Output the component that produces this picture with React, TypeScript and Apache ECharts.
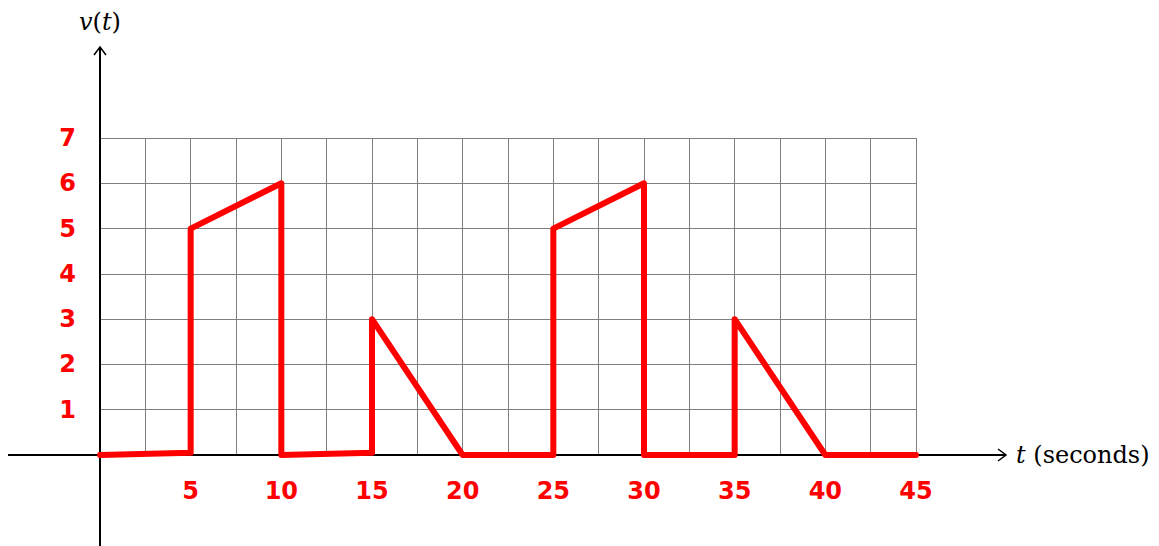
import React, { useEffect, useRef } from "react";
import * as echarts from "echarts";

const tValues = [0, 5, 5, 10, 10, 15, 15, 20, 25, 25, 30, 30, 35, 35, 40, 45];
const vValues = [0, 0.05, 5, 6, 0, 0.05, 3, 0, 0, 5, 6, 0, 0, 3, 0, 0];
const xTickLabels = ["5", "10", "15", "20", "25", "30", "35", "40", "45"];
const yTickLabels = ["1", "2", "3", "4", "5", "6", "7"];
const xAxisTitle = "t";
const xAxisUnit = " (seconds)";

export default function App() {
  const ref = useRef<HTMLDivElement>(null);
  useEffect(() => {
    document.body.style.margin = "0";
    const chart = echarts.init(ref.current!, null, { renderer: "svg" });
    const W = 1159, H = 546;
    const gl = 100, gr = 916, gt = 138, gb = 455;
    const data = tValues.map((t, i) => [t, vValues[i]]);
    const red = "#ff0000";
    const serif = "DejaVu Serif";
    const labelStyle = {
      margin: 24,
      color: red,
      fontFamily: "DejaVu Sans",
      fontWeight: "bold",
      fontSize: 24,
    };
    chart.setOption({
      animation: false,
      backgroundColor: "#ffffff",
      grid: { left: gl, right: W - gr, top: gt, bottom: H - gb, containLabel: false },
      xAxis: {
        type: "value",
        min: 0,
        max: 45,
        interval: 2.5,
        axisLine: { show: false },
        axisTick: { show: false },
        splitLine: { show: true, lineStyle: { color: "#7f7f7f", width: 1 } },
        axisLabel: {
          ...labelStyle,
          formatter: (v: number) => {
            const s = String(v);
            return v > 0 && xTickLabels.includes(s) ? s : "";
          },
        },
      },
      yAxis: {
        type: "value",
        min: 0,
        max: 7,
        interval: 1,
        axisLine: { show: false },
        axisTick: { show: false },
        splitLine: { show: true, lineStyle: { color: "#7f7f7f", width: 1 } },
        axisLabel: {
          ...labelStyle,
          formatter: (v: number) => {
            const s = String(v);
            return yTickLabels.includes(s) ? s : "";
          },
        },
      },
      graphic: [
        { type: "line", shape: { x1: 8, y1: gb, x2: 1006, y2: gb }, style: { stroke: "#000", lineWidth: 2 }, z: 1 },
        { type: "polyline", shape: { points: [[998, gb - 6], [1006, gb], [998, gb + 6]] }, style: { stroke: "#000", lineWidth: 1.5, fill: null }, z: 1 },
        { type: "line", shape: { x1: gl, y1: 546, x2: gl, y2: 47 }, style: { stroke: "#000", lineWidth: 2 }, z: 1 },
        { type: "polyline", shape: { points: [[gl - 6, 55], [gl, 47], [gl + 6, 55]] }, style: { stroke: "#000", lineWidth: 1.5, fill: null }, z: 1 },
        {
          type: "text",
          x: gl,
          y: 22,
          style: {
            text: "{i|v}{n|(}{i|t}{n|)}",
            rich: {
              i: { fontFamily: serif, fontStyle: "italic", fontSize: 24, fill: "#000" },
              n: { fontFamily: serif, fontSize: 24, fill: "#000" },
            },
            align: "center",
            verticalAlign: "middle",
          },
        },
        {
          type: "text",
          x: 1016,
          y: gb,
          style: {
            text: "{i|" + xAxisTitle + "}{n|" + xAxisUnit + "}",
            rich: {
              i: { fontFamily: serif, fontStyle: "italic", fontSize: 24, fill: "#000" },
              n: { fontFamily: serif, fontSize: 24, fill: "#000" },
            },
            align: "left",
            verticalAlign: "middle",
          },
        },
      ],
      series: [
        {
          type: "line",
          data,
          showSymbol: false,
          symbol: "none",
          z: 5,
          lineStyle: { color: red, width: 6, cap: "round", join: "round" },
        },
      ],
    });
    return () => chart.dispose();
  }, []);
  return <div ref={ref} style={{ width: 1159, height: 546 }} />;
}
